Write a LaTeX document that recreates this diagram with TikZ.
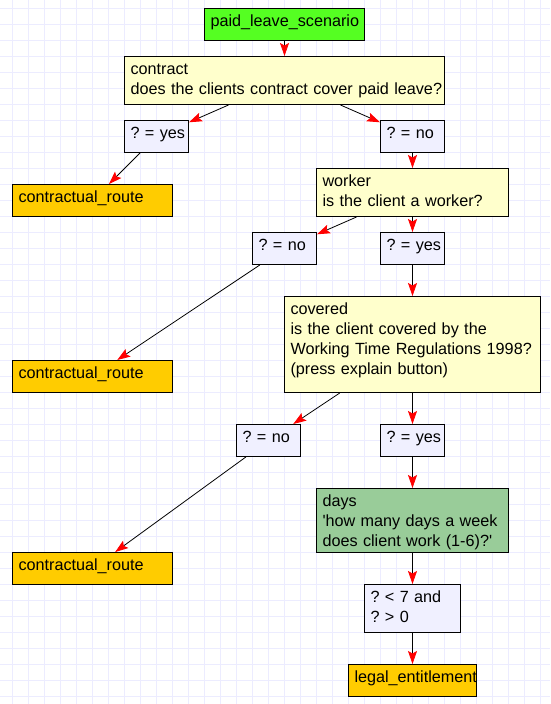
\documentclass[tikz,border=0pt]{standalone}
\usepackage{fontspec}
\setmainfont{Liberation Sans}
\usepackage{xcolor}
\usetikzlibrary{arrows.meta}
\definecolor{startgreen}{RGB}{85,255,34}
\definecolor{askyellow}{RGB}{255,255,204}
\definecolor{testblue}{RGB}{240,240,255}
\definecolor{routeorange}{RGB}{255,204,0}
\definecolor{daysgreen}{RGB}{153,204,153}
\definecolor{gridlav}{RGB}{236,236,255}

\begin{document}
\begin{tikzpicture}[x=1pt, y=-1pt,
  flowbox/.style={draw=black, line width=1pt, anchor=north west, inner xsep=6pt, inner ysep=0pt,
    text height=18pt, text depth=14pt, font=\fontsize{16.2}{20}\selectfont\frenchspacing,
    execute at begin node={\rightskip=-24pt plus 1fil\relax}},
  startbox/.style={flowbox, fill=startgreen},
  askbox/.style={flowbox, fill=askyellow},
  testbox/.style={flowbox, fill=testblue, text width=52pt},
  routebox/.style={flowbox, fill=routeorange, text width=148pt},
  daysbox/.style={flowbox, fill=daysgreen},
  link/.style={black, line width=0.8pt, -{Stealth[color=red, length=13pt, width=9pt, inset=2.5pt]}}]
  \fill[white] (0,0) rectangle (550,704);
  \useasboundingbox (0,0) rectangle (550,704);
  \foreach \gx in {12,28,...,540}
    \draw[gridlav, line width=1pt] (\gx,0) -- (\gx,704);
  \foreach \gy in {8,24,...,696}
    \draw[gridlav, line width=1pt] (0,\gy) -- (550,\gy);

  \node[startbox, text width=148pt] (scenario) at (204,8) {paid\_leave\_scenario};
  \node[askbox, text width=308pt, text depth=30pt] (contract) at (124,56) {contract\\does the clients contract cover paid leave?};
  \node[testbox] (contractyes) at (124,120) {? = yes};
  \node[testbox] (contractno) at (380,120) {? = no};
  \node[routebox] (routeA) at (12,184) {contractual\_route};
  \node[askbox, text width=180pt, text depth=30pt] (worker) at (316,168) {worker\\is the client a worker?};
  \node[testbox] (workerno) at (252,232) {? = no};
  \node[testbox] (workeryes) at (380,232) {? = yes};
  \node[askbox, text width=244pt, text depth=78pt] (covered) at (284,296) {covered\\is the client covered by the\\Working Time Regulations 1998?\\(press explain button)};
  \node[routebox] (routeB) at (12,360) {contractual\_route};
  \node[testbox] (coveredno) at (236,424) {? = no};
  \node[testbox] (coveredyes) at (380,424) {? = yes};
  \node[daysbox, text width=180pt, text depth=46pt] (days) at (316,488) {days\\\textquotesingle how many days a week\\does client work (1-6)?\textquotesingle};
  \node[routebox] (routeC) at (12,552) {contractual\_route};
  \node[testbox, text width=84pt, text depth=30pt] (dayscheck) at (364,584) {? < 7 and\\? > 0};
  \node[flowbox, fill=routeorange, text width=116pt] (entitlement) at (348,664) {legal\_entitlement};

  \draw[link] (scenario) -- (contract);
  \draw[link] (contract) -- (contractyes);
  \draw[link] (contract) -- (contractno);
  \draw[link] (contractyes) -- (routeA);
  \draw[link] (contractno) -- (worker);
  \draw[link] (worker) -- (workerno);
  \draw[link] (worker) -- (workeryes);
  \draw[link] (workerno) -- (routeB);
  \draw[link] (workeryes) -- (covered);
  \draw[link] (covered) -- (coveredno);
  \draw[link] (covered) -- (coveredyes);
  \draw[link] (coveredno) -- (routeC);
  \draw[link] (coveredyes) -- (days);
  \draw[link] (days) -- (dayscheck);
  \draw[link] (dayscheck) -- (entitlement);
\end{tikzpicture}
\end{document}
